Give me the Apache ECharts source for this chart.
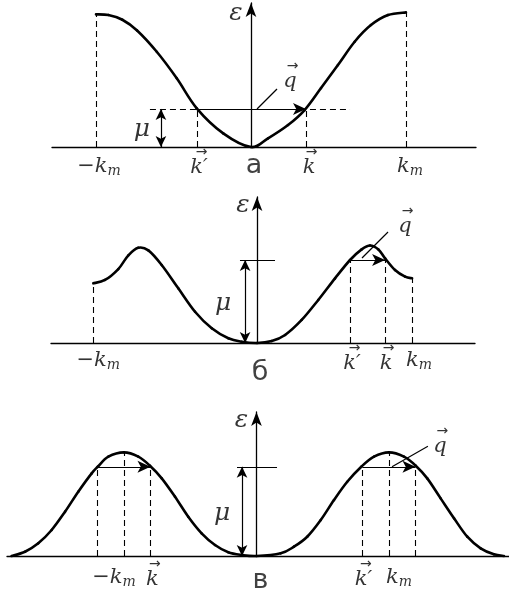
<!DOCTYPE html>
<html>
<head>
<meta charset="utf-8">
<script src="https://cdn.jsdelivr.net/npm/echarts@6/dist/echarts.min.js"></script>
<style>
html, body { margin: 0; padding: 0; background: #fff; }
#chart { width: 509px; height: 596px; }
</style>
</head>
<body>
<div id="chart"></div>
<script>
// ---- Band ε(k) for three cases (k in units of k_m, ε in units of band height) ----

// а: simple cosine-like band over [-k_m, k_m]
const curveA = [
  [-1.0, 0.990], [-0.920, 0.985], [-0.830, 0.950], [-0.735, 0.870], [-0.608, 0.711],
  [-0.479, 0.513], [-0.350, 0.289], [-0.179, 0.102], [0, 0], [0.110, 0.065],
  [0.239, 0.164], [0.346, 0.276], [0.452, 0.440], [0.561, 0.612], [0.669, 0.786],
  [0.774, 0.910], [0.884, 0.985], [1.0, 1.005]
];
const muA = 0.284;          // chemical potential
const kA = 0.355;           // k
const kpA = -0.348;         // k'
const zoneA = [-1.0, 1.0];  // -k_m, k_m

// б: band with a maximum inside the zone
const curveB = [
  [-1.056, 0.609], [-0.981, 0.643], [-0.895, 0.755], [-0.830, 0.895], [-0.766, 0.972],
  [-0.701, 0.945], [-0.615, 0.796], [-0.508, 0.558], [-0.400, 0.319], [-0.292, 0.150],
  [-0.185, 0.048], [-0.099, 0.013], [0, 0], [0.095, 0.020], [0.181, 0.082],
  [0.288, 0.235], [0.395, 0.439], [0.503, 0.660], [0.600, 0.847], [0.675, 0.955],
  [0.729, 0.995], [0.783, 0.955], [0.826, 0.864], [0.890, 0.745], [0.955, 0.677],
  [1.0, 0.660]
];
const muB = 0.847;
const kB = 0.826;
const kpB = 0.600;
const zoneB = [-1.056, 1.0];

// в: periodic band with maxima at ±k_m
const curveC = [
  [-1.848, 0], [-1.747, 0.041], [-1.647, 0.122], [-1.546, 0.251], [-1.445, 0.427],
  [-1.345, 0.620], [-1.244, 0.797], [-1.198, 0.861], [-1.118, 0.958], [-1.0, 1.0],
  [-0.892, 0.958], [-0.804, 0.871], [-0.715, 0.749], [-0.615, 0.572], [-0.515, 0.379],
  [-0.414, 0.219], [-0.313, 0.106], [-0.213, 0.036], [-0.112, 0.010], [0, 0],
  [0.183, 0.026], [0.283, 0.090], [0.383, 0.186], [0.485, 0.347], [0.585, 0.540],
  [0.685, 0.716], [0.791, 0.861], [0.887, 0.958], [1.0, 1.0], [1.113, 0.958],
  [1.202, 0.871], [1.289, 0.749], [1.390, 0.556], [1.491, 0.364], [1.591, 0.186],
  [1.692, 0.074], [1.792, 0.016], [1.868, 0]
];
const muC = 0.86;
const kmC = 1.0;
const dkC = 0.2;             // half-length of the scattering vector q

// ---- Layout helpers ----
const BLACK = '#000';
const MATH = 'DejaVu Serif';
const CYR = 'DejaVu Sans';

const noBorder = { textBorderWidth: 0, textShadowBlur: 0 };
const rich = {
  i:   Object.assign({ fontFamily: MATH, fontStyle: 'italic', fontSize: 21, color: BLACK, lineHeight: 22 }, noBorder),
  g:   Object.assign({ fontFamily: MATH, fontStyle: 'italic', fontSize: 25, color: BLACK, lineHeight: 24 }, noBorder),
  n:   Object.assign({ fontFamily: MATH, fontSize: 21, color: BLACK, lineHeight: 22 }, noBorder),
  sub: Object.assign({ fontFamily: MATH, fontStyle: 'italic', fontSize: 14, color: BLACK, lineHeight: 22, padding: [9, 0, 0, 0] }, noBorder),
  arr: Object.assign({ fontFamily: 'DejaVu Sans', fontSize: 14, color: BLACK, lineHeight: 9, padding: [0, 0, 0, 5] }, noBorder),
  cyr: Object.assign({ fontFamily: CYR, fontSize: 27, color: '#111' }, noBorder)
};

const VEC = s => '{arr|\u2192}\n{i|' + s + '}';
const KM = '{i|k}{sub|m}';
const NEG_KM = '{n|\u2212}{i|k}{sub|m}';
const EPS = '{g|\u03b5}';
const MU = '{g|\u03bc}';

function seg(a, b) { return [{ coord: a }, { coord: b }]; }
function txt(pos, str, dx, dy) {
  return { value: pos, label: { formatter: str, offset: [dx, dy] } };
}

// Smooth band curve: each data item draws the cubic (Catmull-Rom) piece
// from its point to the next one, in pixel space via the axes.
function bandSeries(idx, curve) {
  const n = curve.length;
  return {
    type: 'custom', xAxisIndex: idx, yAxisIndex: idx, data: curve,
    encode: { x: 0, y: 1 }, clip: false, silent: true, animation: false, z: 5,
    renderItem: function (params, api) {
      const i = params.dataIndex;
      if (i >= n - 1) return null;
      const P = j => api.coord(curve[Math.max(0, Math.min(n - 1, j))]);
      const p0 = P(i - 1), p1 = P(i), p2 = P(i + 1), p3 = P(i + 2);
      return {
        type: 'bezierCurve',
        shape: {
          x1: p1[0], y1: p1[1], x2: p2[0], y2: p2[1],
          cpx1: p1[0] + (p2[0] - p0[0]) / 6, cpy1: p1[1] + (p2[1] - p0[1]) / 6,
          cpx2: p2[0] - (p3[0] - p1[0]) / 6, cpy2: p2[1] - (p3[1] - p1[1]) / 6
        },
        style: { stroke: BLACK, fill: null, lineWidth: 2.6, lineCap: 'round' }
      };
    }
  };
}

function panel(idx, curve, dashed, solid, arrows, doubles, labels) {
  const thin = { color: BLACK, width: 1.2, type: 'solid' };
  const base = { type: 'line', xAxisIndex: idx, yAxisIndex: idx, data: [], silent: true, animation: false };
  const ml = (data, style, symbol, symbolSize) => ({
    silent: true, animation: false, symbol: symbol, symbolSize: symbolSize,
    label: { show: false }, emphasis: { disabled: true },
    lineStyle: style, data: data
  });
  return [
    bandSeries(idx, curve),
    Object.assign({}, base, { markLine: ml(dashed, { color: BLACK, width: 1.1, type: [6, 4] }, 'none', 0) }),
    Object.assign({}, base, { markLine: ml(solid, thin, 'none', 0) }),
    Object.assign({}, base, { markLine: ml(arrows, thin, ['none', 'arrow'], [9, 13]) }),
    Object.assign({}, base, { markLine: ml(doubles, thin, ['arrow', 'arrow'], [8, 11]) }),
    {
      type: 'scatter', xAxisIndex: idx, yAxisIndex: idx, symbolSize: 0, clip: false,
      silent: true, animation: false, z: 10,
      label: Object.assign({ show: true, position: 'inside', align: 'center', verticalAlign: 'middle', rich: rich, color: BLACK }, noBorder),
      data: labels
    }
  ];
}

const grids = [
  { left: 52, right: 33, top: 3, height: 144 },
  { left: 51, right: 34, top: 197, height: 146 },
  { left: 7, right: 0, top: 412, height: 144 }
];
const xRanges = [[-1.284, 1.452], [-1.329, 1.406], [-1.883, 1.906]];
const yTops = [1.075, 1.49, 1.389];

const axisLine = { show: true, onZero: true, lineStyle: { color: BLACK, width: 1.3 } };
const xAxes = xRanges.map((r, i) => ({
  type: 'value', gridIndex: i, min: r[0], max: r[1],
  axisLine: axisLine, axisTick: { show: false }, axisLabel: { show: false }, splitLine: { show: false }
}));
const yAxes = yTops.map((t, i) => ({
  type: 'value', gridIndex: i, min: 0, max: t,
  axisLine: Object.assign({}, axisLine, { symbol: ['none', 'arrow'], symbolSize: [8, 14] }),
  axisTick: { show: false }, axisLabel: { show: false }, splitLine: { show: false }
}));

const endA = [curveA[0][1], curveA[curveA.length - 1][1]];
const endB = [curveB[0][1], curveB[curveB.length - 1][1]];

const muArrowX = [-0.581, -0.077, -0.109];
const qTip = [[0.168, 0.433], [0.845, 1.133], [1.294, 1.058]];

const series = [].concat(
  panel(0, curveA,
    [
      seg([zoneA[0], 0], [zoneA[0], endA[0]]), seg([zoneA[1], 0], [zoneA[1], endA[1]]),
      seg([kpA, 0], [kpA, muA]), seg([kA, 0], [kA, muA]),
      seg([-0.652, muA], [0.639, muA])
    ],
    [seg([0.039, muA], qTip[0])],
    [seg([kpA, muA], [kA, muA])],
    [seg([muArrowX[0], 0], [muArrowX[0], muA])],
    [
      txt([0, yTops[0]], EPS, -15, 10),
      txt([zoneA[0], 0], NEG_KM, 3, 20),
      txt([kpA, 0], VEC('k\u2032'), 2, 16),
      txt([0, 0], '{cyr|\u0430}', 3, 19),
      txt([kA, 0], VEC('k'), 3, 16),
      txt([zoneA[1], 0], KM, 4, 20),
      txt([muArrowX[0], muA / 2], MU, -19, 2),
      txt(qTip[0], VEC('q'), 13, -12)
    ]),
  panel(1, curveB,
    [
      seg([zoneB[0], 0], [zoneB[0], endB[0]]), seg([zoneB[1], 0], [zoneB[1], endB[1]]),
      seg([kpB, 0], [kpB, muB]), seg([kB, 0], [kB, muB])
    ],
    [seg([0.677, 0.867], qTip[1]), seg([-0.110, muB], [0.116, muB])],
    [seg([kpB, muB], [kB, muB])],
    [seg([muArrowX[1], 0], [muArrowX[1], muB])],
    [
      txt([0, yTops[1]], EPS, -14, 8),
      txt([zoneB[0], 0], NEG_KM, 5, 18),
      txt([kpB, 0], VEC('k\u2032'), 2, 16),
      txt([kB, 0], VEC('k'), 1, 16),
      txt([zoneB[1], 0], KM, 7, 18),
      txt([0, 0], '{cyr|\u0431}', 3, 30),
      txt([muArrowX[1], muB / 2], MU, -22, 2),
      txt(qTip[1], VEC('q'), 17, -10)
    ]),
  panel(2, curveC,
    [
      seg([-kmC - dkC, 0], [-kmC - dkC, muC]), seg([-kmC, 0], [-kmC, 1]), seg([-kmC + dkC, 0], [-kmC + dkC, muC]),
      seg([kmC - dkC, 0], [kmC - dkC, muC]), seg([kmC, 0], [kmC, 1]), seg([kmC + dkC, 0], [kmC + dkC, muC])
    ],
    [seg([1.023, muC], qTip[2]), seg([-0.147, muC], [0.155, muC])],
    [seg([-kmC - dkC, muC], [-kmC + dkC, muC]), seg([kmC - dkC, muC], [kmC + dkC, muC])],
    [seg([muArrowX[2], 0], [muArrowX[2], muC])],
    [
      txt([0, yTops[2]], EPS, -15, 8),
      txt([-kmC, 0], NEG_KM, -10, 22),
      txt([-kmC + dkC, 0], VEC('k'), 2, 19),
      txt([0, 0], '{cyr|\u0432}', 4, 25),
      txt([kmC - dkC, 0], VEC('k\u2032'), 1, 19),
      txt([kmC, 0], KM, 10, 22),
      txt([muArrowX[2], muC / 2], MU, -20, 2),
      txt(qTip[2], VEC('q'), 12, -4)
    ])
);

const chart = echarts.init(document.getElementById('chart'), null, { renderer: 'canvas' });
chart.setOption({
  backgroundColor: '#fff',
  animation: false,
  grid: grids,
  xAxis: xAxes,
  yAxis: yAxes,
  series: series
});
</script>
</body>
</html>
